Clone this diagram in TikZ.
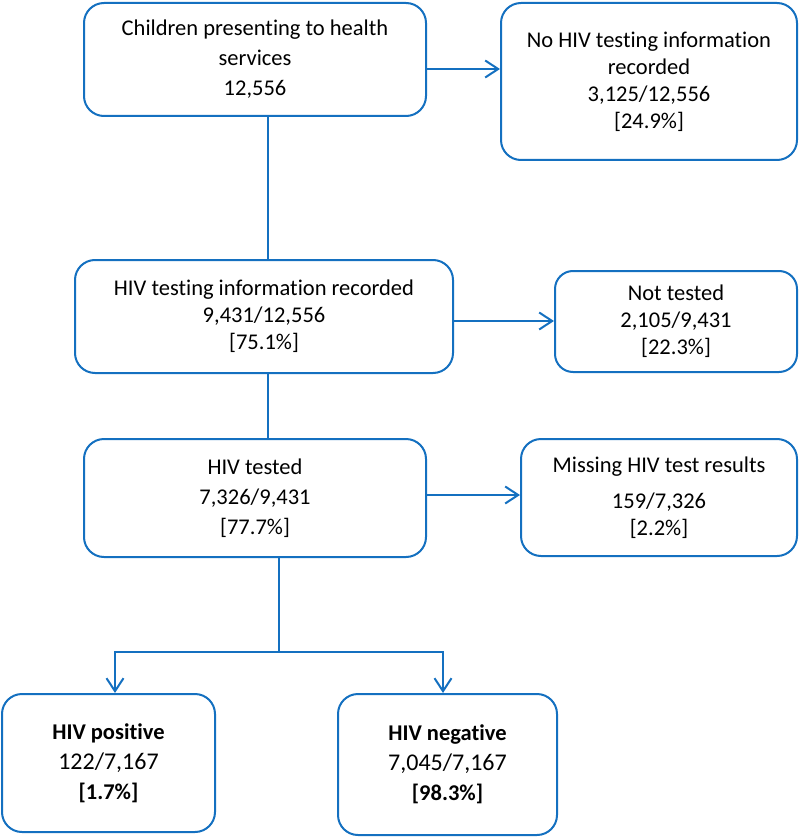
\documentclass[tikz,border=0pt]{standalone}
\usepackage{fontspec}
\setmainfont{Carlito}[Ligatures={NoCommon}]
\usetikzlibrary{arrows.meta}
\definecolor{fcblue}{RGB}{20,112,192}
\begin{document}
\begin{tikzpicture}[x=1pt,y=-1pt,
  box/.style={draw=fcblue, line width=2pt, rounded corners=20pt, align=center, inner sep=0pt,
    font=\fontsize{22.5}{30}\selectfont},
  tight/.style={font=\fontsize{22.5}{27}\selectfont},
  con/.style={draw=fcblue, line width=2pt},
  arr/.style={con, -{Straight Barb[length=13pt,width=17pt]}}]
\useasboundingbox (0,0) rectangle (800,837);

\node[box, minimum width=342pt, minimum height=113pt] (b1) at (255,59.5)
  {Children presenting to health\\services\\12,556};
\node[box, tight, minimum width=296pt, minimum height=157pt] (b2) at (649,81.5)
  {No HIV testing information\\recorded\\3,125/12,556\\{[24.9\%]}};
\node[box, tight, minimum width=378pt, minimum height=113pt] (b3) at (264,316.5)
  {HIV testing information recorded\\9,431/12,556\\{[75.1\%]}};
\node[box, tight, minimum width=242pt, minimum height=101pt, rounded corners=18pt] (b4) at (676,321.5)
  {Not tested\\2,105/9,431\\{[22.3\%]}};
\node[box, minimum width=342pt, minimum height=118pt] (b5) at (255,498)
  {HIV tested\\7,326/9,431\\{[77.7\%]}};
\node[box, tight, minimum width=276pt, minimum height=117pt] (b6) at (659,497.5)
  {\raisebox{-3pt}{Missing HIV test results}\\[12pt]159/7,326\\{[2.2\%]}};
\node[box, minimum width=213pt, minimum height=138pt] (b7) at (108.5,763)
  {\textbf{HIV positive}\\{\fontsize{24}{30}\selectfont 122/7,167}\\\textbf{[1.7\%]}};
\node[box, minimum width=219pt, minimum height=141pt] (b8) at (447.5,764.5)
  {\textbf{HIV negative}\\{\fontsize{24}{30}\selectfont 7,045/7,167}\\\textbf{[98.3\%]}};

\coordinate (r1) at (0,69);
\coordinate (r2) at (0,321);
\coordinate (r3) at (0,495);
\coordinate (v1) at (268,0);
\coordinate (v2) at (279,652);
\coordinate (lft) at (115,652);
\coordinate (rgt) at (443,652);

\draw[arr] (b1.east |- r1) -- (b2.west |- r1);
\draw[arr] (b3.east |- r2) -- (b4.west |- r2);
\draw[arr] (b5.east |- r3) -- (b6.west |- r3);
\draw[con] (b1.south -| v1) -- (b3.north -| v1);
\draw[con] (b3.south -| v1) -- (b5.north -| v1);
\draw[con] (b5.south -| v2) -- (v2);
\draw[arr] (v2) -- (lft) -- (b7.north -| lft);
\draw[arr] (v2) -- (rgt) -- (b8.north -| rgt);
\end{tikzpicture}
\end{document}
